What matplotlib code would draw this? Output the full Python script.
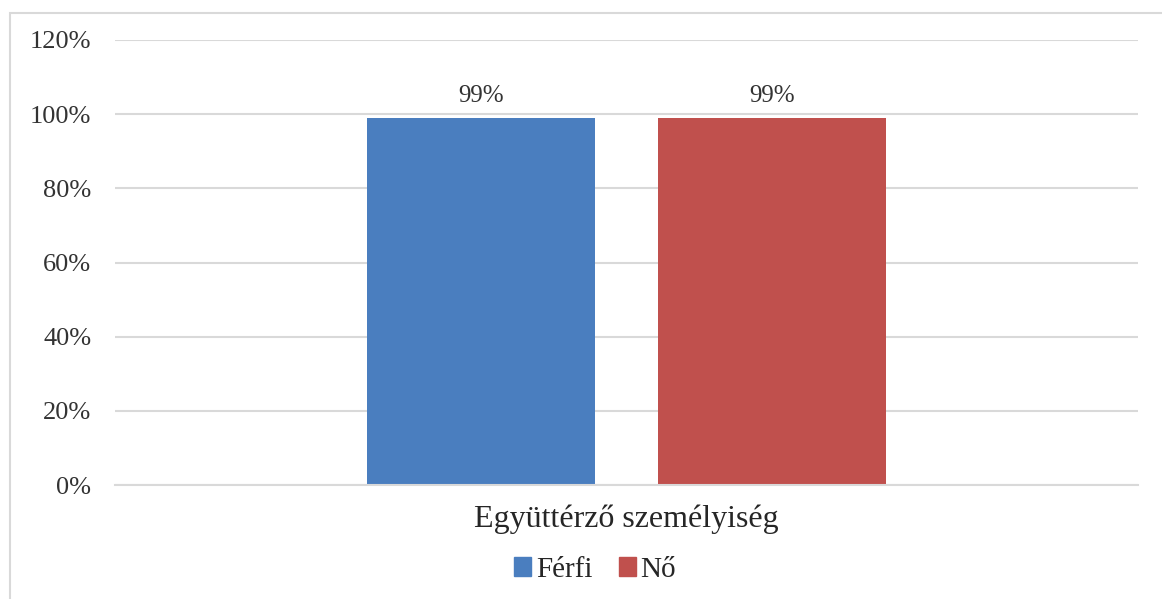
import matplotlib
matplotlib.use("Agg")
import matplotlib.pyplot as plt
from matplotlib.patches import Rectangle, Patch
from matplotlib.ticker import FuncFormatter

categories = ["Együttérző személyiség"]
series_names = ["Férfi", "Nő"]
ferfi = [99]
no = [99]
colors = ["#4A7EBF", "#C0504D"]

plt.rcParams['font.family'] = ['Liberation Serif', 'DejaVu Serif']

W, H = 1162, 599
fig = plt.figure(figsize=(W/100, H/100), dpi=100)
fig.patches.append(Rectangle((10/W, -0.05), 1.2, 1 - 13/H + 0.05, transform=fig.transFigure,
                             fill=False, edgecolor="#D9D9D9", linewidth=1.5))

ax = fig.add_axes([115/W, (H-485)/H, (1138-115)/W, (485-40)/H])
x = list(range(len(categories)))
width = 0.223
off = 0.1425
b1 = ax.bar([i - off for i in x], ferfi, width, color=colors[0], label=series_names[0])
b2 = ax.bar([i + off for i in x], no, width, color=colors[1], label=series_names[1])
for bars, vals in ((b1, ferfi), (b2, no)):
    for r, v in zip(bars, vals):
        ax.annotate(f"{v}%", (r.get_x() + r.get_width()/2, v), xytext=(0, 8),
                    textcoords="offset points", ha="center", va="bottom",
                    fontsize=18, color="#333333")

ax.set_xlim(-0.5, 0.5)
ax.set_ylim(0, 120)
ax.set_yticks(range(0, 121, 20))
ax.yaxis.set_major_formatter(FuncFormatter(lambda v, p: f"{int(v)}%"))
ax.set_xticks(x)
ax.set_xticklabels(categories)
ax.tick_params(axis="y", length=0, labelsize=19, labelcolor="#333333", pad=17)
ax.tick_params(axis="x", length=0, labelsize=23, labelcolor="#262626", pad=14)
ax.grid(axis="y", color="#D9D9D9", linewidth=1.5)
ax.set_axisbelow(True)
for s in ("top", "right", "left"):
    ax.spines[s].set_visible(False)
ax.spines["bottom"].set_color("#D9D9D9")
ax.spines["bottom"].set_linewidth(1.5)

handles = [Patch(color=colors[0], label=series_names[0]), Patch(color=colors[1], label=series_names[1])]
fig.legend(handles=handles, loc="center", bbox_to_anchor=(595/W, (H-570)/H), ncol=2, frameon=False,
           fontsize=21, handlelength=0.6, handleheight=0.6, handletextpad=0.15, columnspacing=0.9,
           labelcolor="#262626")

fig.savefig("out.png", dpi=100)
